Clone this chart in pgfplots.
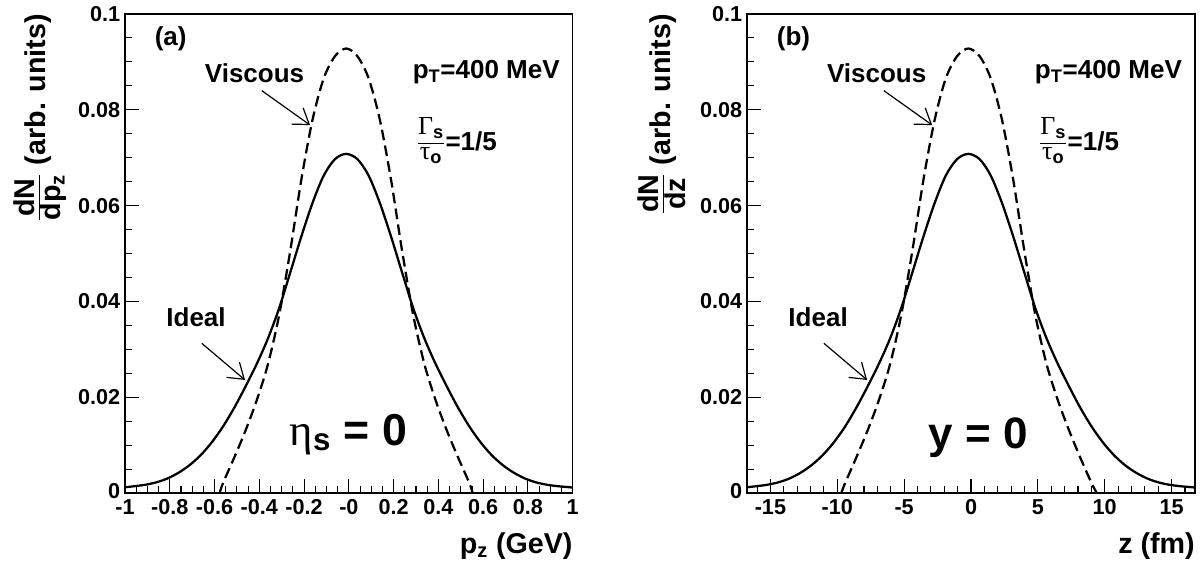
\documentclass[border=0pt]{standalone}
\usepackage{fontspec}
\setmainfont{Liberation Sans}
\newfontfamily\grk{Liberation Serif}
\usepackage{pgfplots}
\usepackage{pgfplotstable}
\pgfplotsset{compat=1.18}
\usetikzlibrary{arrows.meta}

\pgfplotstableread{
x y
-1.000 0.0012
-0.962 0.0014
-0.912 0.0017
-0.862 0.0022
-0.812 0.0030
-0.762 0.0042
-0.712 0.0058
-0.662 0.0079
-0.612 0.0106
-0.562 0.0139
-0.512 0.0178
-0.462 0.0222
-0.412 0.0269
-0.362 0.0322
-0.312 0.0385
-0.262 0.0460
-0.212 0.0536
-0.162 0.0606
-0.112 0.0663
-0.062 0.0697
-0.012 0.0708
0.038 0.0697
0.088 0.0663
0.138 0.0606
0.188 0.0536
0.238 0.0460
0.288 0.0385
0.338 0.0322
0.388 0.0269
0.438 0.0222
0.488 0.0178
0.538 0.0139
0.588 0.0106
0.638 0.0079
0.688 0.0058
0.738 0.0042
0.788 0.0030
0.838 0.0022
0.888 0.0017
0.938 0.0014
0.988 0.0012
1.000 0.0011
}\solidA

\pgfplotstableread{
x y
-0.577 0.0000
-0.562 0.0021
-0.512 0.0074
-0.462 0.0130
-0.412 0.0193
-0.362 0.0268
-0.312 0.0370
-0.262 0.0505
-0.212 0.0655
-0.162 0.0780
-0.112 0.0866
-0.062 0.0912
-0.012 0.0928
0.038 0.0912
0.088 0.0866
0.138 0.0780
0.188 0.0655
0.238 0.0505
0.288 0.0370
0.338 0.0268
0.388 0.0193
0.438 0.0130
0.488 0.0074
0.538 0.0021
0.553 0.0000
}\dashA

\pgfplotstableread{
x y
-16.75 0.0012
-16.11 0.0014
-15.28 0.0017
-14.44 0.0022
-13.60 0.0030
-12.76 0.0042
-11.93 0.0058
-11.09 0.0079
-10.25 0.0106
-9.41 0.0139
-8.58 0.0178
-7.74 0.0222
-6.90 0.0269
-6.06 0.0322
-5.23 0.0385
-4.39 0.0460
-3.55 0.0536
-2.71 0.0606
-1.88 0.0663
-1.04 0.0697
-0.20 0.0708
0.64 0.0697
1.47 0.0663
2.31 0.0606
3.15 0.0536
3.99 0.0460
4.82 0.0385
5.66 0.0322
6.50 0.0269
7.34 0.0222
8.17 0.0178
9.01 0.0139
9.85 0.0106
10.69 0.0079
11.52 0.0058
12.36 0.0042
13.20 0.0030
14.04 0.0022
14.87 0.0017
15.71 0.0014
16.55 0.0012
16.75 0.0011
}\solidB

\pgfplotstableread{
x y
-9.70 0.0000
-9.41 0.0021
-8.58 0.0074
-7.74 0.0130
-6.90 0.0193
-6.06 0.0268
-5.23 0.0370
-4.39 0.0505
-3.55 0.0655
-2.71 0.0780
-1.88 0.0866
-1.04 0.0912
-0.20 0.0928
0.64 0.0912
1.47 0.0866
2.31 0.0780
3.15 0.0655
3.99 0.0505
4.82 0.0370
5.66 0.0268
6.50 0.0193
7.34 0.0130
8.17 0.0074
9.01 0.0021
9.40 0.0000
}\dashB

\newcommand{\lab}{\fontsize{19.5}{22}\selectfont\bfseries}
\newcommand{\ttl}{\fontsize{21.5}{24}\selectfont\bfseries}
\newcommand{\bigfnt}{\fontsize{33.5}{36}\selectfont\bfseries}
\newcommand{\gfrac}{$\frac{\hbox{\rule[-6pt]{0pt}{0pt}{\grk\mdseries Γ}\textsubscript{s}}}{\hbox{{\grk\mdseries τ}\textsubscript{o}}}$=1/5}

\pgfplotsset{rootstyle/.style={
  scale only axis, height=359.25pt,
  ymin=0, ymax=0.1,
  clip=false,
  axis line style={line width=1pt},
  tick align=inside, xtick pos=bottom, ytick pos=left,
  major tick length=10.5pt, minor tick length=5.25pt,
  every tick/.style={black, line width=0.8pt},
  ytick={0,0.02,0.04,0.06,0.08,0.1},
  yticklabels={\raisebox{-4.3pt}[0pt][0pt]{0},0.02,0.04,0.06,0.08,0.1},
  minor y tick num=3,
  tick label style={font=\fontsize{16.2}{18}\selectfont\bfseries},
  yticklabel style={inner sep=1pt, xshift=-2.5pt},
  xticklabel style={yshift=-1.5pt},
  xlabel style={at={(axis description cs:1,-0.127)}, anchor=base east, inner sep=0pt, font=\ttl},
  ylabel style={at={(axis description cs:-0.19,1)}, anchor=east, inner sep=0pt, font=\ttl},
}}

\begin{document}
\begin{tikzpicture}
\path[use as bounding box] (0,0) rectangle (900.75pt,428.25pt);

\begin{axis}[rootstyle, at={(93.75pt,58.5pt)}, anchor=south west, width=335.8pt,
  xmin=-1, xmax=1,
  xtick={-1,-0.8,-0.6,-0.4,-0.2,0,0.2,0.4,0.6,0.8,1},
  xticklabels={-1,-0.8,-0.6,-0.4,-0.2,-0,0.2,0.4,0.6,0.8,1},
  minor x tick num=3,
  xlabel={p\textsubscript{z} (GeV)},
  ylabel={$\frac{\hbox{\rule[-3pt]{0pt}{0pt}dN}}{\hbox{dp\textsubscript{z}}}$ (arb. units)}]
\addplot[black, line width=1.7pt, smooth] table {\solidA};
\addplot[black, line width=1.7pt, smooth, dash pattern=on 8pt off 4pt] table {\dashA};
\node[anchor=base west, font=\lab] at (axis cs:-0.888,0.0935) {(a)};
\node[anchor=base west, font=\lab] at (axis cs:-0.664,0.0858) {Viscous};
\node[anchor=base west, font=\lab] at (axis cs:-0.836,0.0347) {Ideal};
\node[anchor=base west, font=\lab] at (axis cs:0.2645,0.0866) {p\textsubscript{T}=400 MeV};
\node[anchor=base west, font=\lab] at (axis cs:0.281,0.0716) {\gfrac};
\node[anchor=base west, font=\bigfnt] at (axis cs:-0.285,0.0100) {{\grk\mdseries η}\textsubscript{s} = 0};
\draw[line width=0.9pt, -{Straight Barb[length=11pt,width=15pt]}] (axis cs:-0.389,0.0840) -- (axis cs:-0.173,0.0768);
\draw[line width=0.9pt, -{Straight Barb[length=11pt,width=15pt]}] (axis cs:-0.657,0.03125) -- (axis cs:-0.464,0.0236);
\end{axis}

\begin{axis}[rootstyle, at={(560.25pt,58.5pt)}, anchor=south west, width=336pt,
  xmin=-16.75, xmax=16.75,
  xtick={-15,-10,-5,0,5,10,15},
  xticklabels={-15,-10,-5,0,5,10,15},
  minor xtick={-16,-14,-13,-12,-11,-9,-8,-7,-6,-4,-3,-2,-1,1,2,3,4,6,7,8,9,11,12,13,14,16},
  xlabel={z (fm)},
  ylabel={$\frac{\hbox{\rule[-3pt]{0pt}{0pt}dN}}{\hbox{dz}}$ (arb. units)}]
\addplot[black, line width=1.7pt, smooth] table {\solidB};
\addplot[black, line width=1.7pt, smooth, dash pattern=on 8pt off 4pt] table {\dashB};
\node[anchor=base west, font=\lab] at (axis cs:-14.87,0.0935) {(b)};
\node[anchor=base west, font=\lab] at (axis cs:-11.12,0.0858) {Viscous};
\node[anchor=base west, font=\lab] at (axis cs:-14.0,0.0347) {Ideal};
\node[anchor=base west, font=\lab] at (axis cs:4.43,0.0866) {p\textsubscript{T}=400 MeV};
\node[anchor=base west, font=\lab] at (axis cs:4.71,0.0716) {\gfrac};
\node[anchor=base west, font=\fontsize{33}{36}\selectfont\bfseries] at (axis cs:-3.5,0.0092) {y = 0};
\draw[line width=0.9pt, -{Straight Barb[length=11pt,width=15pt]}] (axis cs:-6.52,0.0840) -- (axis cs:-2.90,0.0768);
\draw[line width=0.9pt, -{Straight Barb[length=11pt,width=15pt]}] (axis cs:-11.0,0.03125) -- (axis cs:-7.77,0.0236);
\end{axis}
\end{tikzpicture}
\end{document}
